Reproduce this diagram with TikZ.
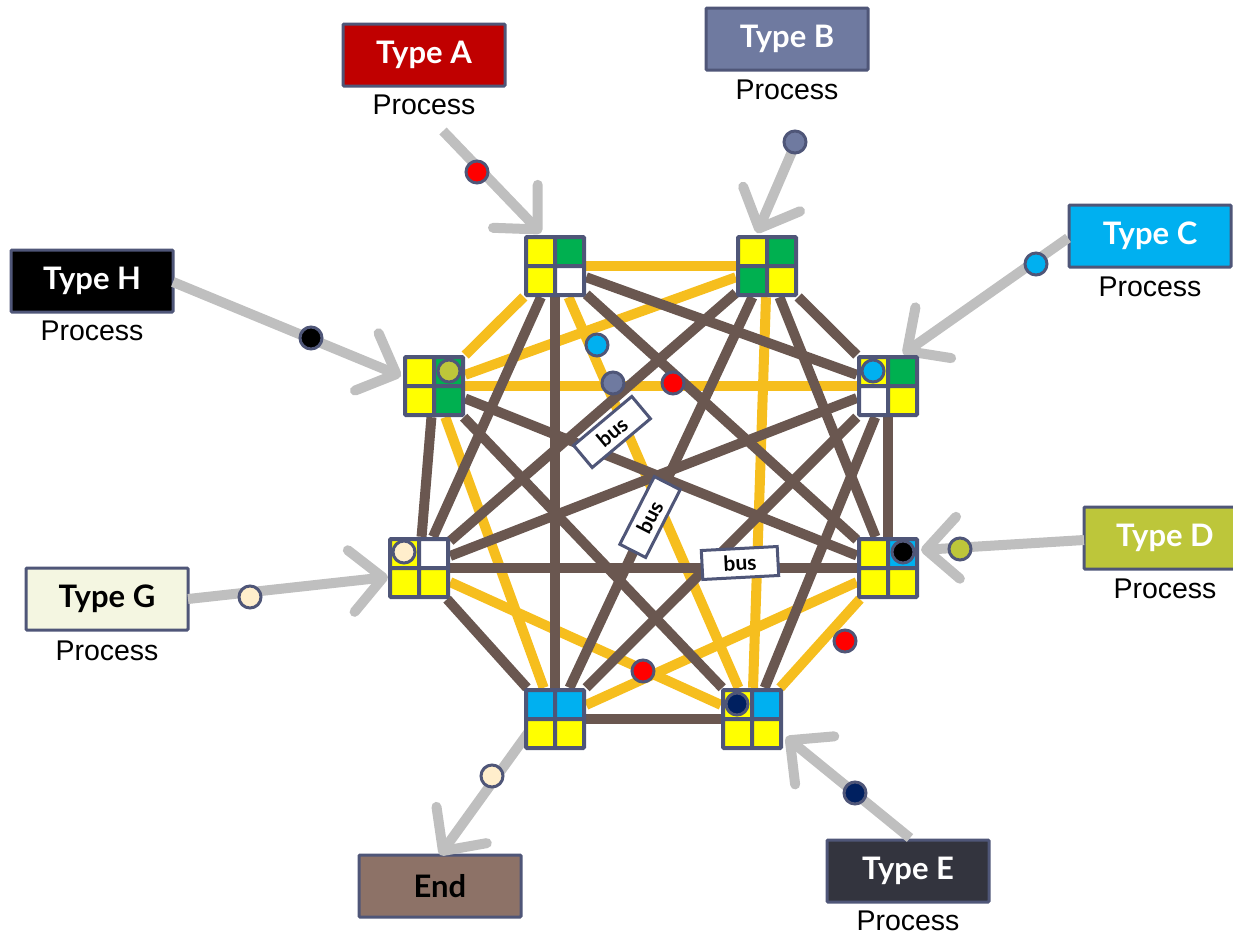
\documentclass[tikz,border=0pt]{standalone}
\usepackage{fontspec}
\setmainfont{Liberation Sans}
\newfontfamily\typefont{Lato}
\usetikzlibrary{arrows.meta}
\definecolor{bordc}{HTML}{4F5678}
\definecolor{feedgray}{HTML}{BFBFBF}
\definecolor{edgeyellow}{HTML}{F6BE1E}
\definecolor{edgebrown}{HTML}{6A5750}
\definecolor{cyel}{HTML}{FFFF00}
\definecolor{cgrn}{HTML}{00B050}
\definecolor{ccyan}{HTML}{00B0F0}
\definecolor{cwht}{HTML}{FFFFFF}
\definecolor{cred}{HTML}{FF0000}
\definecolor{dkred}{HTML}{C00000}
\definecolor{slate}{HTML}{6F7AA0}
\definecolor{olive}{HTML}{BDC63A}
\definecolor{navy}{HTML}{002060}
\definecolor{cream}{HTML}{FFEECC}
\definecolor{darkE}{HTML}{33343E}
\definecolor{lightG}{HTML}{F4F6E1}
\definecolor{endbrown}{HTML}{8D7267}
\newcommand{\hubcells}[5]{%
  \filldraw[fill=#2, draw=bordc, line width=4pt, rounded corners=1pt] ([shift={(-29,-29)}]#1.center) rectangle (#1.center);
  \filldraw[fill=#3, draw=bordc, line width=4pt, rounded corners=1pt] ([shift={(0,-29)}]#1.center) rectangle ([shift={(29,0)}]#1.center);
  \filldraw[fill=#4, draw=bordc, line width=4pt, rounded corners=1pt] ([shift={(-29,0)}]#1.center) rectangle ([shift={(0,29)}]#1.center);
  \filldraw[fill=#5, draw=bordc, line width=4pt, rounded corners=1pt] (#1.center) rectangle ([shift={(29,29)}]#1.center);
}
\begin{document}
\begin{tikzpicture}[x=1pt,y=-1pt,
  typebox/.style={draw=bordc, line width=3pt, minimum width=162pt, minimum height=62pt, inner sep=0pt, rounded corners=1pt, font=\typefont\bfseries\fontsize{31}{34}\selectfont, text=white},
  proc/.style={inner sep=0pt, font=\fontsize{28.5}{31}\selectfont},
  feed/.style={draw=feedgray, line width=10pt, -{Straight Barb[round,length=32pt,width=62pt]}},
  yedge/.style={draw=edgeyellow, line width=10pt},
  bedge/.style={draw=edgebrown, line width=10pt},
  dot/.style={circle, draw=bordc, line width=3pt, minimum size=22pt, inner sep=0pt},
  hub/.style={minimum size=62pt, inner sep=0pt},
  buslabel/.style={draw=bordc, line width=3pt, fill=white, minimum width=76pt, minimum height=29pt, inner sep=1pt, font=\typefont\bfseries\fontsize{21}{22}\selectfont}
]
\useasboundingbox (0,0) rectangle (1233,937);

% hubs
\node[hub] (nA) at (555,266) {};
\node[hub] (nB) at (767,266) {};
\node[hub] (nC) at (888,386) {};
\node[hub] (nD) at (888,568) {};
\node[hub] (nE) at (752,719) {};
\node[hub] (nF) at (555,719) {};
\node[hub] (nG) at (419,568) {};
\node[hub] (nH) at (434,386) {};

% type boxes
\node[typebox, fill=dkred] (tA) at (424,55) {Type A};
\node[proc] (pA) at (424,105) {Process};
\node[typebox, fill=slate] (tB) at (787,39) {Type B};
\node[proc] (pB) at (787,90) {Process};
\node[typebox, fill=ccyan] (tC) at (1150,236) {Type C};
\node[proc] (pC) at (1150,287) {Process};
\node[typebox, fill=olive] (tD) at (1165,538) {Type D};
\node[proc] (pD) at (1165,589) {Process};
\node[typebox, fill=darkE] (tE) at (908,871) {Type E};
\node[proc] (pE) at (908,921) {Process};
\node[typebox, fill=lightG, text=black] (tG) at (107,599) {Type G};
\node[proc] (pG) at (107,651) {Process};
\node[typebox, fill=black] (tH) at (92,281) {Type H};
\node[proc] (pH) at (92,331) {Process};
\node[typebox, fill=endbrown, text=black] (tEnd) at (440,886) {End};

% feed arrows
\coordinate (sA) at (443,131); \coordinate (eA) at (541,233);
\coordinate (sB) at (797,140); \coordinate (eB) at (757,233);
\coordinate (sC) at (1068,238); \coordinate (eC) at (903,354);
\coordinate (sD) at (1084,540); \coordinate (eD) at (921,550);
\coordinate (sE) at (910,838); \coordinate (eE) at (786,737);
\coordinate (sG) at (188,599); \coordinate (eG) at (388,577);
\coordinate (sH) at (173,282); \coordinate (eH) at (401,376);
\coordinate (sF) at (528,733); \coordinate (eF) at (440,855);
\draw[feed] (sA) -- (eA);
\draw[feed] (sB) -- (eB);
\draw[feed] (sC) -- (eC);
\draw[feed] (sD) -- (eD);
\draw[feed] (sE) -- (eE);
\draw[feed] (sG) -- (eG);
\draw[feed] (sH) -- (eH);
\draw[feed] (sF) -- (eF);

% yellow edges
\draw[yedge] (nA) -- (nB);
\draw[yedge] (nA) -- (nE);
\draw[yedge] (nA) -- (nH);
\draw[yedge] (nB) -- (nE);
\draw[yedge] (nB) -- (nH);
\draw[yedge] (nC) -- (nH);
\draw[yedge] (nD) -- (nE);
\draw[yedge] (nD) -- (nF);
\draw[yedge] (nE) -- (nG);
\draw[yedge] (nF) -- (nH);
% brown edges
\draw[bedge] (nA) -- (nC);
\draw[bedge] (nA) -- (nD);
\draw[bedge] (nA) -- (nF);
\draw[bedge] (nA) -- (nG);
\draw[bedge] (nB) -- (nC);
\draw[bedge] (nB) -- (nD);
\draw[bedge] (nB) -- (nF);
\draw[bedge] (nB) -- (nG);
\draw[bedge] (nC) -- (nD);
\draw[bedge] (nC) -- (nE);
\draw[bedge] (nC) -- (nF);
\draw[bedge] (nC) -- (nG);
\draw[bedge] (nD) -- (nG);
\draw[bedge] (nD) -- (nH);
\draw[bedge] (nE) -- (nF);
\draw[bedge] (nE) -- (nH);
\draw[bedge] (nF) -- (nG);
\draw[bedge] (nG) -- (nH);

% hub cells
\hubcells{nA}{cyel}{cgrn}{cyel}{cwht}
\hubcells{nB}{cyel}{cgrn}{cgrn}{cyel}
\hubcells{nC}{cyel}{cgrn}{cwht}{cyel}
\hubcells{nD}{cyel}{ccyan}{cyel}{cyel}
\hubcells{nE}{cyel}{ccyan}{cyel}{cyel}
\hubcells{nF}{ccyan}{ccyan}{cyel}{cyel}
\hubcells{nG}{cyel}{cwht}{cyel}{cyel}
\hubcells{nH}{cyel}{cgrn}{cyel}{cgrn}

% bus labels
\node[buslabel, rotate=40] (bus1) at (612,432) {bus};
\node[buslabel, rotate=63] (bus2) at (650,517) {bus};
\node[buslabel, rotate=3] (bus3) at (740,563) {bus};

% dots
\node[dot, fill=cred] (dA) at (477,172) {};
\node[dot, fill=slate] (dB) at (795,142) {};
\node[dot, fill=ccyan] (dC) at (1036,264) {};
\node[dot, fill=olive] (dD) at (960,549) {};
\node[dot, fill=navy] (dE) at (855,793) {};
\node[dot, fill=cream] (dF) at (492,776) {};
\node[dot, fill=cream] (dG) at (250,597) {};
\node[dot, fill=black] (dH) at (311,338) {};
\node[dot, fill=ccyan] (d1) at (597,345) {};
\node[dot, fill=slate] (d2) at (613,383) {};
\node[dot, fill=cred] (d3) at (673,383) {};
\node[dot, fill=cred] (d4) at (845,641) {};
\node[dot, fill=cred] (d5) at (643,671) {};
\node[dot, fill=olive] (hH) at (449,371) {};
\node[dot, fill=ccyan] (hC) at (873,371) {};
\node[dot, fill=black] (hD) at (903,552) {};
\node[dot, fill=cream] (hG) at (404,552) {};
\node[dot, fill=navy] (hE) at (737,704) {};
\end{tikzpicture}
\end{document}
